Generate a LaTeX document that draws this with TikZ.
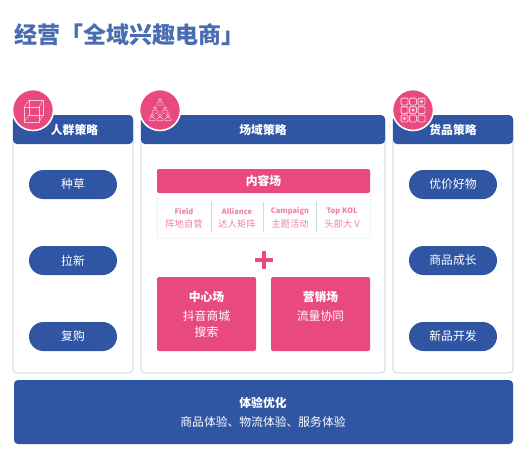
\documentclass[tikz,border=0pt]{standalone}
\usepackage{fontspec}
\setmainfont{Noto Sans CJK SC}
\usetikzlibrary{calc}
\definecolor{hblue}{HTML}{2F55A3}
\definecolor{tblue}{HTML}{4A6DB0}
\definecolor{pinkc}{HTML}{E8497F}
\definecolor{edgec}{HTML}{B4C8D8}
\definecolor{softp}{HTML}{EE83A8}
\tikzset{
  x=1pt,y=-1pt,
  panel/.style={draw=edgec,line width=0.6pt,fill=white,rounded corners=4pt},
  band/.style={fill=hblue,rounded corners=4pt},
  headtext/.style={text=white,font=\fontsize{11.8}{12}\selectfont\bfseries},
  pill/.style={fill=hblue,text=white,rounded corners=14.5pt,minimum width=88pt,minimum height=29pt,inner sep=0pt,font=\fontsize{11.8}{12}\selectfont},
  badge/.style={circle,fill=pinkc,draw=white,line width=1.6pt,minimum size=41pt,inner sep=0pt},
  pinkbox/.style={fill=pinkc,rounded corners=2pt},
  en/.style={text=softp,font=\fontsize{7.5}{8}\selectfont\bfseries,inner sep=0pt},
  cn/.style={text=softp,font=\fontsize{9.3}{10}\selectfont,inner sep=0pt},
  icon/.style={draw=white!70!pinkc,line width=0.5pt},
}
\begin{document}
\begin{tikzpicture}
\useasboundingbox (0,0) rectangle (527,452);
\fill[white] (0,0) rectangle (527,452);
\node[anchor=west,inner sep=0pt,text=tblue,font=\fontsize{23}{24}\selectfont\bfseries] (title) at (14,35) {经营「全域兴趣电商」};

% panels
\draw[panel] (13,116) rectangle (133,373);
\draw[panel] (141,116) rectangle (385,373);
\draw[panel] (393,116) rectangle (513,373);
\fill[band] (13,115) rectangle (133,144);
\fill[band] (141,115) rectangle (385,144);
\fill[band] (393,115) rectangle (513,144);
\node[headtext] (h1) at (74.5,130) {人群策略};
\node[headtext] (h2) at (263,130) {场域策略};
\node[headtext] (h3) at (453,130) {货品策略};

% badges
\node[badge] (b1) at (33,110) {};
\node[badge] (b2) at (160,110) {};
\node[badge] (b3) at (413,110) {};

% cube icon
\draw[icon] (24,107) rectangle (39,122);
\draw[icon] (29,100) rectangle (43,115);
\draw[icon] (24,107) -- (29,100) (39,107) -- (43,100) (24,122) -- (29,115) (39,122) -- (43,115);
% people icon
\foreach \p/\q in {160/102,155/110,165/110,152/117.5,160/117.5,168/117.5}{
  \draw[icon] (\p,\q-2) circle (1.5);
  \draw[icon] (\p-3,\q+3) -- (\p-3,\q+1.2) -- (\p-1.4,\q) -- (\p+1.4,\q) -- (\p+3,\q+1.2) -- (\p+3,\q+3) -- cycle;
}
% grid icon
\foreach \cx in {404.5,413,421.5}{
  \foreach \cy in {101.5,110,118.5}{
    \draw[icon,line width=0.8pt,rounded corners=1pt] (\cx-3.4,\cy-3.4) rectangle (\cx+3.4,\cy+3.4);
  }
}
\fill[white!70!pinkc] (413,110) circle (1.8) (404.5,118.5) circle (1.8) (421.5,101.5) circle (1.8);

% pills
\node[pill] (p1) at (73,184.5) {种草};
\node[pill] (p2) at (73,260.5) {拉新};
\node[pill] (p3) at (73,336.5) {复购};
\node[pill] (p4) at (453,184.5) {优价好物};
\node[pill] (p5) at (453,260.5) {商品成长};
\node[pill] (p6) at (453,336.5) {新品开发};

% content field
\fill[white,rounded corners=2pt] (157,190) rectangle (370,238);
\draw[edgec!40,line width=0.5pt,rounded corners=2pt] (157,190) -- (157,238) -- (370,238) -- (370,190);
\fill[pinkbox] (157,169) rectangle (370,193);
\node[headtext] (c0) at (263.5,181) {内容场};
\node[en] (e1) at (184,211.5) {Field};
\node[cn] (z1) at (184,223.5) {阵地自营};
\node[en] (e2) at (237,211.5) {Alliance};
\node[cn] (z2) at (237,223.5) {达人矩阵};
\node[en] (e3) at (290,211.5) {Campaign};
\node[cn] (z3) at (290,223.5) {主题活动};
\node[en] (e4) at (342,211.5) {Top KOL};
\node[cn] (z4) at (342,223.5) {头部大 V};
\foreach \x in {211,263.5,316}{\draw[edgec!70,line width=0.5pt] (\x,202) -- (\x,232);}

% plus
\draw[pinkc,line width=4pt] (254.5,259.5) -- (272.5,259.5) (263.5,250.5) -- (263.5,268.5);

% lower boxes
\fill[pinkbox] (157,277) rectangle (256,351);
\fill[pinkbox] (271,277) rectangle (370,351);
\node[headtext] (m0) at (206.5,297) {中心场};
\node[text=white,align=center,font=\fontsize{11.8}{16}\selectfont] (m1) at (206.5,324) {抖音商城\\搜索};
\node[headtext] (s0) at (320.5,297) {营销场};
\node[text=white,font=\fontsize{11.8}{12}\selectfont] (s1) at (320.5,316) {流量协同};

% bottom
\fill[band] (14,380) rectangle (513,444);
\node[headtext] (x0) at (263,403) {体验优化};
\node[text=white,font=\fontsize{11.8}{12}\selectfont] (x1) at (263,422) {商品体验、物流体验、服务体验};
\end{tikzpicture}
\end{document}
